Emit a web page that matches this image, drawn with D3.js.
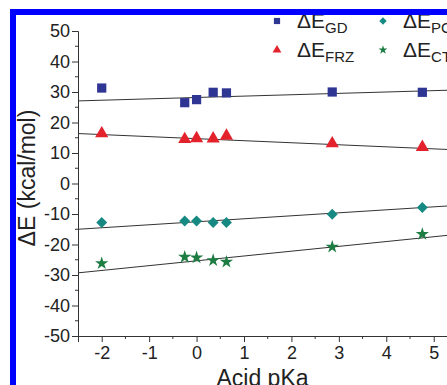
<!DOCTYPE html>
<html><head><meta charset="utf-8">
<script src="https://cdn.jsdelivr.net/npm/d3@7"></script>
<style>html,body{margin:0;padding:0;background:#fff;overflow:hidden}svg{display:block;font-family:"Liberation Sans",Arial,sans-serif}</style>
</head><body>
<svg id="c" width="447" height="385"></svg>
<script>
// Data
const pKa = [-2, -0.25, 0, 0.35, 0.63, 2.86, 4.76];
const dE_GD  = [31.3, 26.5, 27.5, 29.9, 29.7, 30.0, 29.9];
const dE_FRZ = [16.4, 14.5, 14.8, 14.7, 15.6, 13.1, 11.9];
const dE_PC  = [-12.8, -12.3, -12.3, -12.8, -12.8, -10.1, -7.9];
const dE_CT  = [-26.2, -24.1, -24.3, -25.2, -25.7, -20.8, -16.6];
// linear fit lines: [intercept, slope]
const fit_GD  = [28.2, 0.45];
const fit_FRZ = [14.7, -0.67];
const fit_PC  = [-12.55, 0.98];
const fit_CT  = [-25.35, 1.58];
const xTicks = [-2, -1, 0, 1, 2, 3, 4, 5];
const yTicks = [-50, -40, -30, -20, -10, 0, 10, 20, 30, 40, 50];
const seriesNames = ["GD", "FRZ", "PC", "CT"];

const svg = d3.select("#c");
const x = d3.scaleLinear().domain([-2.5, 6]).range([78, 78 + 8.5 * 47.43]);
const y = d3.scaleLinear().domain([-50, 50]).range([336, 31]);

const series = [
  {name: seriesNames[0], vals: dE_GD,  fit: fit_GD,  color: "#2f3593", sym: d3.symbolSquare,   size: 85, rot: 0},
  {name: seriesNames[1], vals: dE_FRZ, fit: fit_FRZ, color: "#e3222b", sym: d3.symbolTriangle, size: 75, rot: 0},
  {name: seriesNames[2], vals: dE_PC,  fit: fit_PC,  color: "#168a82", sym: d3.symbolSquare,   size: 60, rot: 45},
  {name: seriesNames[3], vals: dE_CT,  fit: fit_CT,  color: "#1e7d43", sym: d3.symbolStar,     size: 55, rot: 0}
];

const axisColor = "#333";
const fmt = d => String(d);
// y axis
const yAxis = d3.axisLeft(y).tickValues(yTicks).tickSize(6).tickPadding(2).tickFormat(fmt);
const gy = svg.append("g").attr("transform", `translate(${x(-2.5)},0)`).call(yAxis);
gy.select(".domain").attr("stroke", axisColor);
gy.selectAll(".tick line").attr("stroke", axisColor);
gy.selectAll("text").attr("font-size", 18).attr("fill", "#222").attr("font-family", "Liberation Sans, Arial, sans-serif");
const yMinor = d3.range(-45, 50, 10);
svg.append("g").selectAll("line").data(yMinor).join("line")
  .attr("x1", x(-2.5) - 3).attr("x2", x(-2.5)).attr("y1", d => y(d)).attr("y2", d => y(d)).attr("stroke", axisColor);

// x axis
const xAxis = d3.axisBottom(x).tickValues(xTicks).tickSize(6).tickPadding(4).tickFormat(fmt);
const gx = svg.append("g").attr("transform", `translate(0,${y(-50)})`).call(xAxis);
gx.select(".domain").attr("stroke", axisColor);
gx.selectAll(".tick line").attr("stroke", axisColor);
gx.selectAll("text").attr("font-size", 18).attr("fill", "#222").attr("font-family", "Liberation Sans, Arial, sans-serif");
const xMinor = d3.range(-1.5, 6, 1);
svg.append("g").selectAll("line").data(xMinor).join("line")
  .attr("x1", d => x(d)).attr("x2", d => x(d)).attr("y1", y(-50)).attr("y2", y(-50) + 3).attr("stroke", axisColor);

// fit lines
series.forEach(s => {
  const xs = [-2.5, 6];
  svg.append("line")
    .attr("x1", x(xs[0])).attr("y1", y(s.fit[0] + s.fit[1] * xs[0]))
    .attr("x2", x(xs[1])).attr("y2", y(s.fit[0] + s.fit[1] * xs[1]))
    .attr("stroke", "#333").attr("stroke-width", 1);
});

// points
series.forEach(s => {
  svg.append("g").selectAll("path").data(pKa).join("path")
    .attr("d", d3.symbol().type(s.sym).size(s.size))
    .attr("transform", (d, i) => `translate(${x(d)},${y(s.vals[i])}) rotate(${s.rot})`)
    .attr("fill", s.color);
});

// axis titles
svg.append("text").attr("x", 262.5).attr("y", 386).attr("text-anchor", "middle")
  .attr("font-size", 23).attr("fill", "#222").text("Acid pKa");
svg.append("text").attr("transform", "translate(35,178) rotate(-90)").attr("text-anchor", "middle")
  .attr("font-size", 23).attr("fill", "#222").text("ΔE (kcal/mol)");

// legend
const legPos = [[277, 21], [277, 50], [383, 21], [383, 50]];
series.forEach((s, i) => {
  const [lx, ly] = legPos[i];
  svg.append("path").attr("d", d3.symbol().type(s.sym).size(s.size * 0.45))
    .attr("transform", `translate(${lx},${ly}) rotate(${s.rot})`).attr("fill", s.color);
  const t = svg.append("text").attr("x", lx + 20).attr("y", ly + 7).attr("font-size", 21).attr("fill", "#222");
  t.append("tspan").text("ΔE");
  t.append("tspan").attr("dy", 5).attr("font-size", 15).text(s.name);
});

// blue frame
svg.append("rect").attr("x", 13).attr("y", 12).attr("width", 600).attr("height", 600)
  .attr("fill", "none").attr("stroke", "#0000ff").attr("stroke-width", 6);
</script>
</body></html>
